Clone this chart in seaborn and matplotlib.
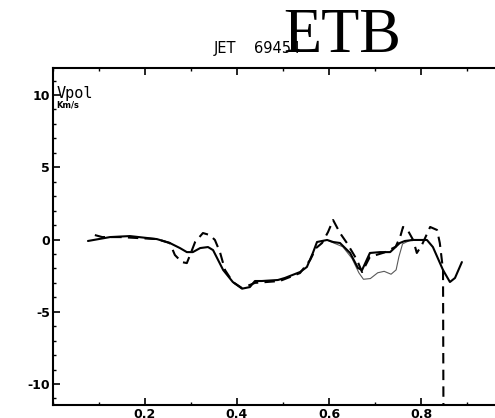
import matplotlib
matplotlib.use("Agg")
import matplotlib.pyplot as plt
import numpy as np
import pandas as pd
import seaborn as sns
from matplotlib.ticker import MultipleLocator

# main profile (solid)
rho_a = [0.076, 0.124, 0.167, 0.226, 0.254, 0.276, 0.291, 0.304, 0.320, 0.337,
         0.348, 0.370, 0.391, 0.411, 0.428, 0.439, 0.454, 0.489, 0.504, 0.537,
         0.552, 0.565, 0.574, 0.596, 0.609, 0.624, 0.646, 0.663, 0.672, 0.689,
         0.711, 0.733, 0.754, 0.765, 0.783, 0.813, 0.826, 0.848, 0.863, 0.874,
         0.889]
vpol_a = [-0.10, 0.17, 0.24, 0.03, -0.24, -0.59, -0.87, -0.87, -0.59, -0.52,
          -0.73, -2.11, -2.94, -3.40, -3.29, -2.87, -2.87, -2.80, -2.66, -2.25,
          -1.90, -0.93, -0.17, -0.03, -0.17, -0.24, -0.93, -1.97, -2.11, -0.93,
          -0.87, -0.87, -0.24, -0.10, -0.03, -0.03, -0.52, -2.11, -2.94, -2.66,
          -1.56]

# second profile (dashed)
rho_b = [0.091, 0.107, 0.146, 0.226, 0.254, 0.265, 0.280, 0.291, 0.298, 0.309,
         0.326, 0.341, 0.352, 0.363, 0.374, 0.391, 0.411, 0.439, 0.493, 0.537,
         0.559, 0.572, 0.585, 0.598, 0.609, 0.624, 0.639, 0.661, 0.672, 0.689,
         0.720, 0.745, 0.755, 0.761, 0.772, 0.783, 0.791, 0.802, 0.820, 0.835,
         0.841, 0.848, 0.849]
vpol_b = [0.31, 0.17, 0.17, 0.03, -0.24, -1.07, -1.56, -1.63, -1.07, -0.17,
          0.45, 0.31, -0.03, -0.87, -2.11, -2.94, -3.36, -3.00, -2.87, -2.32,
          -1.42, -0.59, -0.24, 0.52, 1.35, 0.45, -0.24, -1.42, -2.25, -1.20,
          -0.90, -0.50, 0.20, 0.87, 0.60, -0.03, -0.93, -0.38, 0.87, 0.66,
          -0.24, -2.11, -13.0]

# third profile (thin)
rho_c = [0.600, 0.630, 0.650, 0.665, 0.675, 0.690, 0.706, 0.720, 0.735, 0.746,
         0.752, 0.760, 0.780]
vpol_c = [-0.10, -0.50, -1.30, -2.30, -2.75, -2.70, -2.30, -2.20, -2.40, -2.10,
          -1.20, -0.30, 0.00]

sns.set_style("ticks")
plt.rcParams["font.family"] = ["DejaVu Sans"]
plt.rcParams["text.color"] = "black"
plt.rcParams["xtick.color"] = "black"
plt.rcParams["ytick.color"] = "black"

fig = plt.figure(figsize=(4.95, 4.18), dpi=100)
ax = fig.add_axes([53 / 495, 13 / 418, 1 - 53 / 495, 337 / 418])

df_a = pd.DataFrame({"rho": rho_a, "vpol": vpol_a})
df_b = pd.DataFrame({"rho": rho_b, "vpol": vpol_b})
df_c = pd.DataFrame({"rho": rho_c, "vpol": vpol_c})

sns.lineplot(data=df_c, x="rho", y="vpol", ax=ax, color="0.35", lw=0.8,
             sort=False, estimator=None)
sns.lineplot(data=df_a, x="rho", y="vpol", ax=ax, color="black", lw=1.5,
             sort=False, estimator=None)
sns.lineplot(data=df_b, x="rho", y="vpol", ax=ax, color="black", lw=1.5,
             sort=False, estimator=None, dashes=False)
ax.lines[-1].set_dashes([5, 3])

ax.set_xlim(0, 0.961)
ax.set_ylim(-11.45, 11.87)
ax.set(xlabel=None, ylabel=None)

ax.spines["right"].set_visible(False)
for s in ("left", "bottom", "top"):
    ax.spines[s].set_linewidth(1.5)
    ax.spines[s].set_color("black")

ax.xaxis.set_major_locator(MultipleLocator(0.2))
ax.xaxis.set_minor_locator(MultipleLocator(0.1))
ax.yaxis.set_major_locator(MultipleLocator(5))
ax.yaxis.set_minor_locator(MultipleLocator(1))
ax.tick_params(which="both", direction="in", top=True, right=False,
               color="black", labelcolor="black")
ax.tick_params(which="major", length=5, width=1.2)
ax.tick_params(which="minor", length=2.5, width=1)
ax.tick_params(axis="x", pad=2, labelsize=9)
ax.tick_params(axis="y", pad=2, labelsize=9)
ax.set_xticks([0.2, 0.4, 0.6, 0.8])
ax.set_xticklabels(["0.2", "0.4", "0.6", "0.8"], fontweight="bold")
ax.set_yticks([-10, -5, 0, 5, 10])
ax.set_yticklabels(["-10", "-5", "0", "5", "10"], fontweight="bold")

ax.text(0.008, 10.1, "Vpol", fontsize=11, ha="left", va="center",
        family="DejaVu Sans Mono", color="black")
ax.text(0.008, 9.3, "Km/s", fontsize=6, fontweight="bold", ha="left",
        va="center", color="black")

fig.text(257 / 495, 1 - 48 / 418, "JET    69454", fontsize=10.5,
         ha="center", va="center", color="black")
fig.text(283 / 495, 1 - 52 / 418, "ETB", fontsize=45, ha="left",
         va="baseline", family="Liberation Serif", color="black")

fig.savefig("out.png", dpi=100)
